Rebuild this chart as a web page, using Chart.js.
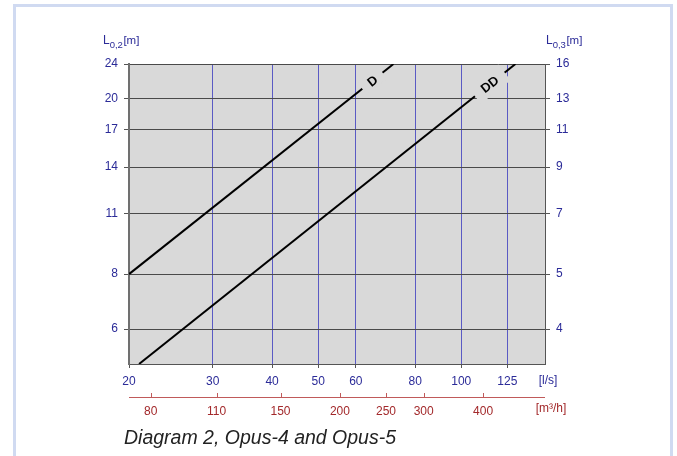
<!DOCTYPE html>
<html><head><meta charset="utf-8">
<script src="https://cdn.jsdelivr.net/npm/chart.js@4/dist/chart.umd.min.js"></script>
<style>html,body{margin:0;padding:0;background:#fff;}canvas{display:block;}</style>
</head><body>
<canvas id="c" width="677" height="456"></canvas>
<script>
// ---- data ----
const flowTicksLs = [20, 30, 40, 50, 60, 80, 100, 125];        // [l/s]
const flowTicksM3h = [80, 110, 150, 200, 250, 300, 400];        // [m³/h]
const lengthTicksL02 = [6, 8, 11, 14, 17, 20, 24];              // L0,2 [m]
const lengthLabelsL03 = ['4', '5', '7', '9', '11', '13', '16']; // L0,3 [m]
const seriesNames = ['D', 'DD'];
const flowD = [20, 72];
const lengthD = [8, 24];
const flowDD = [21, 130];
const lengthDD = [5, 24];
const labelFlow = [65, 114.7];
const labelLength = [22.0, 21.6];
const M3H_PER_LS = 3.6;

const FONT = "'Liberation Sans', Arial, sans-serif";
const BLUE = '#2b2b98';
const RED = '#a3292b';
const PLOT_BG = '#d9d9d9';

const decor = {
  id: 'decor',
  beforeDraw(chart) {
    const ctx = chart.ctx, a = chart.chartArea;
    ctx.save();
    ctx.fillStyle = '#fff';
    ctx.fillRect(0, 0, chart.width, chart.height);
    ctx.strokeStyle = '#d0daf1';
    ctx.lineWidth = 3;
    ctx.strokeRect(14.5, 5.5, 657, 520);
    ctx.fillStyle = PLOT_BG;
    ctx.fillRect(a.left, a.top, a.right - a.left, a.bottom - a.top);
    ctx.restore();
  },
  afterDatasetsDraw(chart) {
    const ctx = chart.ctx, xs = chart.scales.x, ys = chart.scales.y;
    const lines = [[flowD, lengthD], [flowDD, lengthDD]];
    const boxW = [26, 38], boxH = [15, 20];
    seriesNames.forEach((name, i) => {
      const [fx, ly] = lines[i];
      const x0 = xs.getPixelForValue(fx[0]), y0 = ys.getPixelForValue(ly[0]);
      const x1 = xs.getPixelForValue(fx[1]), y1 = ys.getPixelForValue(ly[1]);
      const ang = Math.atan2(y1 - y0, x1 - x0);
      const px = xs.getPixelForValue(labelFlow[i]), py = ys.getPixelForValue(labelLength[i]);
      ctx.save();
      ctx.translate(px, py);
      ctx.rotate(ang);
      ctx.fillStyle = PLOT_BG;
      ctx.fillRect(-boxW[i] / 2, -boxH[i] / 2, boxW[i], boxH[i]);
      ctx.fillStyle = '#000';
      ctx.font = 'bold 13px ' + FONT;
      ctx.textAlign = 'center';
      ctx.textBaseline = 'middle';
      ctx.fillText(name, 0, 1);
      ctx.restore();
    });
  },
  afterDraw(chart) {
    const ctx = chart.ctx, a = chart.chartArea, x2 = chart.scales.x2;
    ctx.save();
    // red secondary axis line + upward ticks
    const yl = a.bottom + 33;
    ctx.strokeStyle = '#c05a5a';
    ctx.lineWidth = 1;
    ctx.beginPath();
    ctx.moveTo(a.left, yl + 0.5);
    ctx.lineTo(a.right, yl + 0.5);
    flowTicksM3h.forEach(v => {
      const px = Math.round(x2.getPixelForValue(v / M3H_PER_LS)) + 0.5;
      ctx.moveTo(px, yl);
      ctx.lineTo(px, yl - 4);
    });
    ctx.stroke();
    // axis titles
    const title = (x, sub) => {
      ctx.fillStyle = BLUE;
      ctx.textAlign = 'left';
      ctx.textBaseline = 'alphabetic';
      ctx.font = '12px ' + FONT;
      ctx.fillText('L', x, 43.5);
      let w = ctx.measureText('L').width;
      ctx.font = '9.5px ' + FONT;
      ctx.fillText(sub, x + w, 48.3);
      w += ctx.measureText(sub).width;
      ctx.font = '11.5px ' + FONT;
      ctx.fillText('[m]', x + w + 0.5, 43.5);
    };
    title(103, '0,2');
    title(546, '0,3');
    // units
    ctx.textAlign = 'center';
    ctx.textBaseline = 'middle';
    ctx.font = '12px ' + FONT;
    ctx.fillStyle = BLUE;
    ctx.fillText('[l/s]', 548, 381);
    ctx.fillStyle = RED;
    ctx.fillText('[m³/h]', 551, 409);
    // caption
    ctx.fillStyle = '#222';
    ctx.textAlign = 'left';
    ctx.textBaseline = 'alphabetic';
    ctx.font = 'italic 19.5px ' + FONT;
    ctx.fillText('Diagram 2, Opus-4 and Opus-5', 124, 443.5);
    ctx.restore();
  }
};

const tickFont = { size: 12, family: FONT };

new Chart(document.getElementById('c'), {
  type: 'line',
  data: {
    datasets: [
      { label: seriesNames[0], data: flowD.map((x, i) => ({ x, y: lengthD[i] })),
        borderColor: '#000', borderWidth: 2, pointRadius: 0, xAxisID: 'x', yAxisID: 'y' },
      { label: seriesNames[1], data: flowDD.map((x, i) => ({ x, y: lengthDD[i] })),
        borderColor: '#000', borderWidth: 2, pointRadius: 0, xAxisID: 'x', yAxisID: 'y' }
    ]
  },
  options: {
    responsive: false,
    animation: false,
    devicePixelRatio: 1,
    layout: { padding: { top: 64, left: 0, right: 0, bottom: 0 } },
    plugins: { legend: { display: false }, tooltip: { enabled: false } },
    scales: {
      x: {
        type: 'logarithmic', position: 'bottom', weight: 0, min: 20, max: 150, bounds: 'data',
        afterBuildTicks: s => { s.ticks = flowTicksLs.map(v => ({ value: v })); },
        afterFit: s => { s.height = 28; },
        ticks: { autoSkip: false, maxRotation: 0, color: BLUE, font: tickFont, padding: 6,
          callback: (v, i) => String(flowTicksLs[i]) },
        grid: { color: '#5a5ac4', lineWidth: 1, tickColor: '#555', tickLength: 4 },
        border: { color: '#555', width: 1 }
      },
      x2: {
        type: 'logarithmic', position: 'bottom', weight: 1, min: 20, max: 150, bounds: 'data',
        afterBuildTicks: s => { s.ticks = flowTicksM3h.map(v => ({ value: v / M3H_PER_LS })); },
        afterFit: s => { s.height = 64; },
        ticks: { autoSkip: false, maxRotation: 0, color: RED, font: tickFont, padding: 4,
          callback: (v, i) => String(flowTicksM3h[i]) },
        grid: { display: false },
        border: { display: false }
      },
      y: {
        type: 'logarithmic', position: 'left', min: 5, max: 24, bounds: 'data',
        afterBuildTicks: s => { s.ticks = lengthTicksL02.map(v => ({ value: v })); },
        afterFit: s => { s.width = 129; },
        ticks: { color: BLUE, font: tickFont, padding: 6,
          callback: (v, i) => String(lengthTicksL02[i]) },
        grid: { color: '#4a4a4a', lineWidth: 1, tickColor: '#555', tickLength: 5 },
        border: { color: '#707070', width: 2 }
      },
      y2: {
        type: 'logarithmic', position: 'right', min: 5, max: 24, bounds: 'data',
        afterBuildTicks: s => { s.ticks = lengthTicksL02.map(v => ({ value: v })); },
        afterFit: s => { s.width = 132; },
        ticks: { color: BLUE, font: tickFont, padding: 6,
          callback: (v, i) => lengthLabelsL03[i] },
        grid: { drawOnChartArea: false, tickColor: '#555', tickLength: 5 },
        border: { color: '#555', width: 1 }
      }
    }
  },
  plugins: [decor]
});
</script>
</body></html>
